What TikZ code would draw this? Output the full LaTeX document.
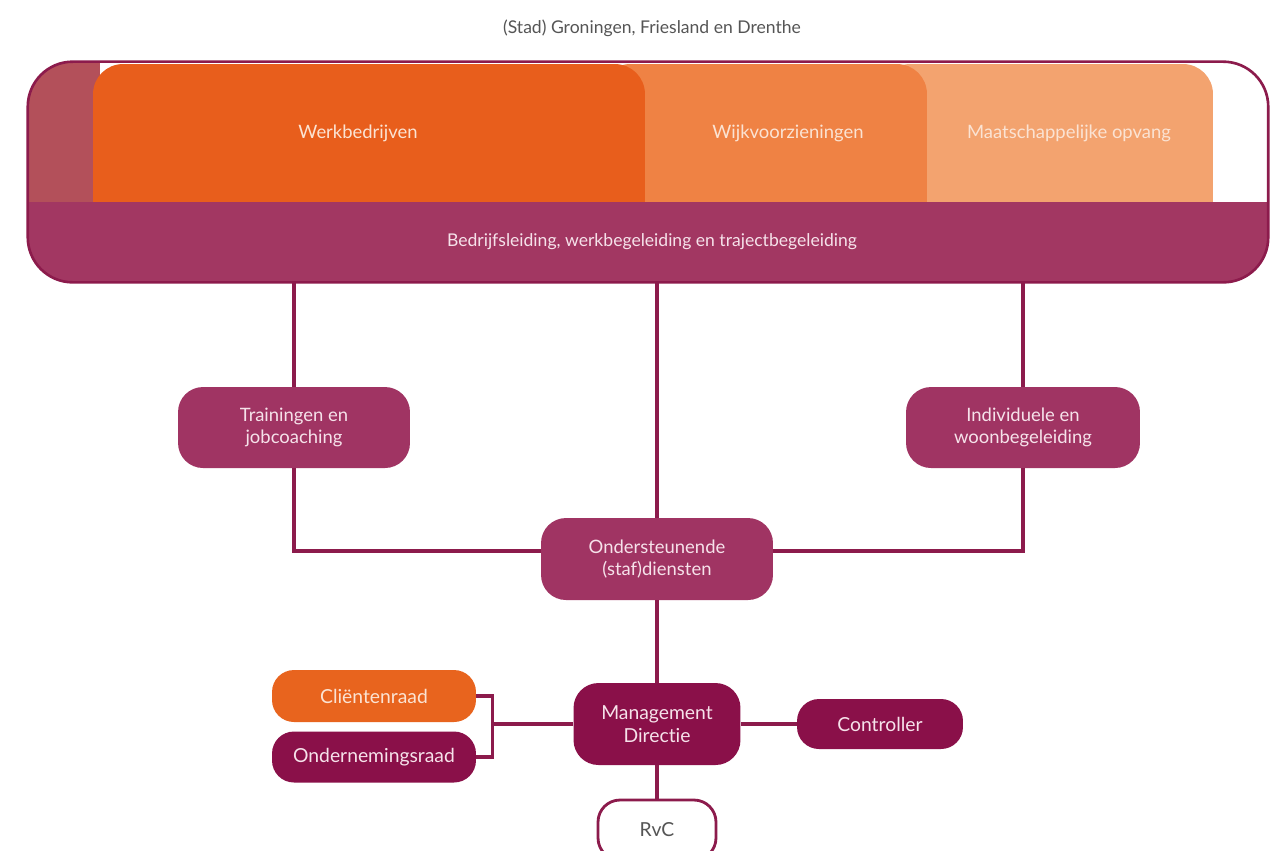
\documentclass[tikz,border=0pt]{standalone}
\usepackage{fontspec}
\setmainfont{Lato}[Ligatures={NoCommon}]
\usetikzlibrary{calc}
\definecolor{werk}{HTML}{E85E1C}
\definecolor{wijk}{HTML}{EF8244}
\definecolor{maats}{HTML}{F3A36F}
\definecolor{strip}{HTML}{B3505A}
\definecolor{band}{HTML}{A23762}
\definecolor{border}{HTML}{8C1B4C}
\definecolor{mauve}{HTML}{A03463}
\definecolor{deep}{HTML}{8A1049}
\definecolor{cli}{HTML}{E8641E}
\definecolor{boxtext}{HTML}{F6E2EA}
\definecolor{tabtext}{HTML}{FBE3D3}
\definecolor{titletext}{HTML}{555555}
\tikzset{
  conn/.style={draw=border, line width=1.9pt},
  tab/.style={rectangle, rounded corners=0.6cm, inner sep=0pt},
  tablbl/.style={text=tabtext, font=\fontsize{10.5}{12.5}\selectfont},
  midbox/.style={rectangle, rounded corners=0.5cm, fill=mauve, text=boxtext, align=center,
    inner sep=0pt, minimum width=4.64cm, minimum height=1.62cm, font=\fontsize{10.5}{12.5}\selectfont},
  lowbox/.style={rectangle, rounded corners=0.44cm, fill=deep, text=boxtext, align=center,
    inner sep=0pt, font=\fontsize{11}{13.5}\selectfont},
}
\begin{document}
\begin{tikzpicture}[x=0.02cm, y=-0.02cm]
\useasboundingbox (0,0) rectangle (1271,850);
\clip (0,0) rectangle (1271,850);
\fill[white] (0,0) rectangle (1271,850);

% title
\node[text=titletext, font=\fontsize{10}{12}\selectfont] (title) at (652,28) {(Stad) Groningen, Friesland en Drenthe};

% outer box
\node[rectangle, rounded corners=0.9cm, fill=white, minimum width=24.8cm, minimum height=4.4cm, inner sep=0pt] (outer) at (648,172) {};
\begin{scope}
  \clip[rounded corners=0.9cm] (outer.south west) rectangle (outer.north east);
  \node[rectangle, fill=strip, minimum width=1.8cm, minimum height=3.8cm, inner sep=0pt] (stripbox) at (55,150) {};
  \node[tab, fill=maats, minimum width=6.66cm, minimum height=3.52cm,
    label={[tablbl, xshift=0.45cm, yshift=0.38cm]center:Maatschappelijke opvang}] (maats) at (1046.5,152) {};
  \node[tab, fill=wijk, minimum width=6.54cm, minimum height=3.52cm,
    label={[tablbl, xshift=0.49cm, yshift=0.38cm]center:Wijkvoorzieningen}] (wijk) at (763.5,152) {};
  \node[tab, fill=werk, minimum width=11.04cm, minimum height=3.52cm,
    label={[tablbl, xshift=-0.22cm, yshift=0.38cm]center:Werkbedrijven}] (werk) at (369,152) {};
  \node[rectangle, fill=band, minimum width=26cm, minimum height=1.6cm, inner sep=0pt,
    text=boxtext, font=\fontsize{10}{12}\selectfont] (band) at (652,242) {Bedrijfsleiding, werkbegeleiding en trajectbegeleiding};
\end{scope}
\draw[draw=border, line width=1.5pt, rounded corners=0.9cm] (outer.south west) rectangle (outer.north east);

% middle boxes
\node[midbox] (trn) at (294,427.5) {Trainingen en\\jobcoaching};
\node[midbox, minimum width=4.68cm] (ind) at (1023,427.5) {Individuele en\\woonbegeleiding};
\node[midbox, minimum height=1.64cm] (ond) at (657,559) {Ondersteunende\\(staf)diensten};

% lower boxes
\node[lowbox, rounded corners=0.5cm, minimum width=3.34cm, minimum height=1.64cm] (mgt) at (657,724) {Management\\Directie};
\node[lowbox, minimum width=3.32cm, minimum height=1.0cm] (ctl) at (880,724) {Controller};
\node[lowbox, fill=cli, text=tabtext, minimum width=4.08cm, minimum height=1.04cm] (cli) at (374,696) {Cliëntenraad};
\node[lowbox, minimum width=4.08cm, minimum height=1.02cm] (ondr) at (374,757) {Ondernemingsraad};
\node[lowbox, fill=white, draw=border, line width=1.6pt, text=titletext, minimum width=2.36cm, minimum height=1.2cm] (rvc) at (657,830) {RvC};

% connectors
\draw[conn] (trn.north) -- (trn.north |- outer.south);
\draw[conn] (ind.north) -- (ind.north |- outer.south);
\draw[conn] (ond.north) -- (ond.north |- outer.south);
\draw[conn] (trn.south) |- ([yshift=0.16cm]ond.west);
\draw[conn] (ind.south) |- ([yshift=0.16cm]ond.east);
\draw[conn] (ond.south) -- (mgt.north);
\draw[conn] (mgt.east) -- (ctl.west);
\draw[conn] (mgt.south) -- (rvc.north);
\coordinate (br) at ([xshift=0.32cm]cli.east);
\draw[conn] (cli.east) -- (br) |- (ondr.east);
\draw[conn] (mgt.west) -- (mgt.west -| br);
\end{tikzpicture}
\end{document}
